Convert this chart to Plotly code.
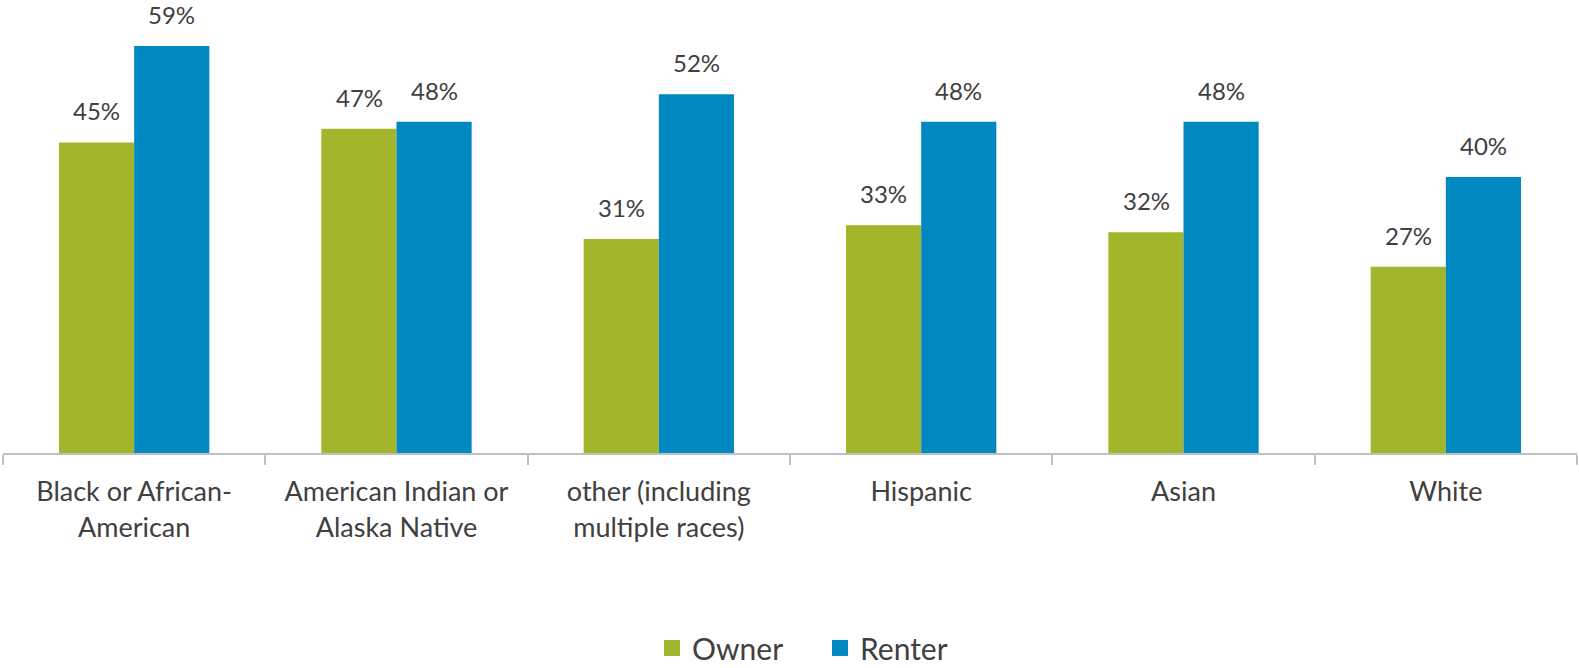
import plotly.graph_objects as go

categories = ["Black or African-<br>American", "American Indian or<br>Alaska Native",
              "other (including<br>multiple races)", "Hispanic", "Asian", "White"]
owner = [45, 47, 31, 33, 32, 27]
renter = [59, 48, 52, 48, 48, 40]

GREEN = "#A3B52A"
BLUE = "#0088C0"
TEXT = "#404040"
FONT = "Lato"

fig = go.Figure()
fig.add_trace(go.Bar(name="Owner", x=categories, y=owner, showlegend=False,
                     marker=dict(color=GREEN, line=dict(width=0))))
fig.add_trace(go.Bar(name="Renter", x=categories, y=renter, showlegend=False,
                     marker=dict(color=BLUE, line=dict(width=0))))
# legend entries (square markers, larger than default bar swatches)
for name, col in (("Owner", GREEN), ("Renter", BLUE)):
    fig.add_trace(go.Scatter(name=name, x=[categories[0]], y=[None], mode="markers",
                             marker=dict(symbol="square", size=18, color=col), showlegend=True))

for vals, shift in ((owner, -37.5), (renter, 37.5)):
    for c, v in zip(categories, vals):
        fig.add_annotation(x=c, y=v, text=f"{v}%", showarrow=False, xref="x", yref="y",
                           yanchor="bottom", yshift=15, xshift=shift,
                           font=dict(family=FONT, size=24, color=TEXT))

fig.update_layout(
    width=1579, height=668,
    margin=dict(l=3, r=2, t=0, b=215),
    plot_bgcolor="white", paper_bgcolor="white",
    barmode="group", bargap=0.427, bargroupgap=0,
    font=dict(family=FONT, color=TEXT),
    showlegend=True,
    legend=dict(orientation="h", xref="container", x=652 / 1579, xanchor="left",
                yref="container", y=0.03, yanchor="middle",
                font=dict(family=FONT, size=30, color=TEXT), itemsizing="trace", itemwidth=30,
                entrywidth=123, entrywidthmode="pixels", tracegroupgap=0),
    xaxis=dict(showline=True, linecolor="#BFBFBF", linewidth=2, ticks="outside", tickson="boundaries",
               ticklen=10, tickcolor="#BFBFBF", tickwidth=2, showgrid=False, ticklabelstandoff=14,
               tickfont=dict(family=FONT, size=27, color=TEXT)),
    yaxis=dict(range=[0, 65.65], visible=False, showgrid=False, zeroline=False),
)

fig.write_html("out.html")
